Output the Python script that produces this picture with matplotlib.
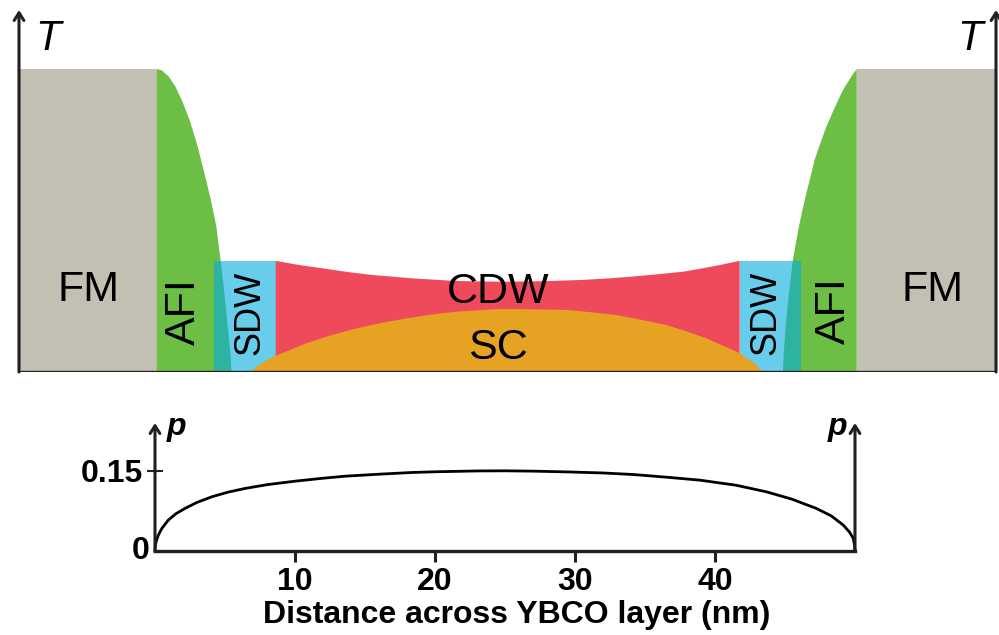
import matplotlib.pyplot as plt
from matplotlib.patches import Rectangle, Polygon

plt.rcParams['font.family'] = ['Liberation Sans', 'DejaVu Sans']

# phase diagram (top), T in units of the FM height
fm_T = 1.0
fm_left = [-9.7, 0.15]
fm_right = [50.15, 60.1]

afi_left_x = [0.15, 0.5, 1.0, 1.5, 2.0, 2.5, 3.0, 3.5, 4.0, 4.4, 4.7, 4.95, 5.15, 5.3, 5.42, 5.48]
afi_left_T = [1.0, 0.996, 0.975, 0.94, 0.89, 0.83, 0.755, 0.665, 0.57, 0.48, 0.37, 0.27, 0.18,
              0.11, 0.05, 0.0]
afi_right_x = [50.15, 49.9, 49.6, 49.35, 49.05, 48.55, 47.98, 47.55, 47.14, 46.85, 46.55, 46.25,
               46.02, 45.8, 45.59, 45.31, 45.07, 44.95, 44.88]
afi_right_T = [1.0, 0.985, 0.963, 0.945, 0.92, 0.87, 0.81, 0.755, 0.70, 0.645, 0.59, 0.53,
               0.48, 0.425, 0.37, 0.26, 0.15, 0.07, 0.0]

sdw_left = [4.21, 8.64]
sdw_right = [41.79, 46.19]
sdw_T = 0.367

cdw_x = [8.64, 10.2, 12.02, 13.8, 15.59, 18.45, 21.31, 23.0, 25.12, 28.0, 30.59, 32.4, 34.16,
         36.0, 37.74, 39.1, 40.36, 41.79]
cdw_T = [0.367, 0.354, 0.342, 0.330, 0.320, 0.309, 0.301, 0.299, 0.298, 0.300, 0.304, 0.309,
         0.315, 0.323, 0.331, 0.342, 0.353, 0.367]

sc_x = [6.91, 7.2, 7.7, 8.45, 10.84, 12.5, 14.41, 16.2, 17.98, 19.8, 21.55, 24.16, 24.64, 27.0,
        29.41, 31.2, 32.98, 34.8, 36.55, 38.0, 39.41, 40.6, 41.79, 42.7, 43.2, 43.45]
sc_T = [0.0, 0.015, 0.03, 0.050, 0.095, 0.120, 0.144, 0.162, 0.177, 0.190, 0.199, 0.207, 0.208,
        0.207, 0.205, 0.197, 0.188, 0.172, 0.155, 0.134, 0.111, 0.087, 0.062, 0.033, 0.013, 0.0]

# hole doping profile (bottom)
p_x = [0, 0.02, 0.08, 0.24, 0.5, 0.95, 1.5, 2.14, 3.0, 4.05, 5.2, 6.43, 8.0, 10.0, 12.0, 13.57,
       16.0, 18.34, 20.0, 23.09, 25.0, 27.0, 29.41, 32.0, 34.16, 36.5, 38.93, 41.5, 43.69,
       45.5, 47.24, 48.3, 49.16, 49.6, 49.88, 49.97, 50.0]
p_val = [0, 0.010, 0.018, 0.0303, 0.043, 0.0581, 0.070, 0.0798, 0.091, 0.1014, 0.110, 0.117,
         0.124, 0.1305, 0.136, 0.1398, 0.1435, 0.1467, 0.148, 0.1496, 0.1498, 0.1492, 0.1478,
         0.1458, 0.1429, 0.138, 0.1324, 0.123, 0.1106, 0.097, 0.0798, 0.066, 0.0488, 0.036,
         0.0241, 0.010, 0]
x_ticks = [10, 20, 30, 40]

c_fm = '#c2bfb3'
c_afi = '#6dbe45'
c_sdw = '#68cdea'
c_teal = '#2db3a0'
c_cdw = '#ef4a5b'
c_sc = '#e6a222'
c_ax = '#231f20'

W, H = 999, 635
fig = plt.figure(figsize=(W / 100, H / 100), dpi=100)

# ---- top panel
ax = fig.add_axes([19 / W, (H - 372) / H, (996 - 19) / W, (372 - 10) / H])
ax.set_xlim(-9.7, 60.1)
ax.set_ylim(0, 1.195)
ax.axis('off')

ax.add_patch(Rectangle((fm_left[0], 0), fm_left[1] - fm_left[0], fm_T, color=c_fm, lw=0, zorder=1))
ax.add_patch(Rectangle((fm_right[0], 0), fm_right[1] - fm_right[0], fm_T, color=c_fm, lw=0, zorder=1))

afi_l = list(zip(afi_left_x, afi_left_T)) + [(afi_left_x[0], 0)]
afi_r = list(zip(afi_right_x, afi_right_T)) + [(afi_right_x[0], 0)]
ax.add_patch(Polygon(afi_l, closed=True, color=c_afi, lw=0, zorder=2))
ax.add_patch(Polygon(afi_r, closed=True, color=c_afi, lw=0, zorder=2))

# SDW boxes, with the AFI overlap shown in teal
for lo, hi, pts in [(sdw_left[0], sdw_left[1], afi_l), (sdw_right[0], sdw_right[1], afi_r)]:
    r = Rectangle((lo, 0), hi - lo, sdw_T, color=c_sdw, lw=0, zorder=3)
    ax.add_patch(r)
    ov = Polygon(pts, closed=True, color=c_teal, lw=0, zorder=4)
    ax.add_patch(ov)
    ov.set_clip_path(r)

cdw_pts = list(zip(cdw_x, cdw_T)) + [(cdw_x[-1], 0), (cdw_x[0], 0)]
ax.add_patch(Polygon(cdw_pts, closed=True, color=c_cdw, lw=0, zorder=5))
ax.fill(sc_x, sc_T, color=c_sc, lw=0, zorder=6)

ax.plot([-9.7, 60.1], [0, 0], color=c_ax, lw=2.4, zorder=8, solid_capstyle='butt')
arr = dict(arrowstyle='->,head_length=0.55,head_width=0.35', lw=2.2, color=c_ax,
           shrinkA=0, shrinkB=0)
ax.annotate('', xy=(0, 1), xytext=(0, 0), xycoords='axes fraction', arrowprops=arr, zorder=9)
ax.annotate('', xy=(1, 1), xytext=(1, 0), xycoords='axes fraction', arrowprops=arr, zorder=9)

ax.text(-8.57, 1.063, 'T', fontsize=30, style='italic', ha='left', va='baseline')
ax.text(59.14, 1.063, 'T', fontsize=30, style='italic', ha='right', va='baseline')

lab = dict(fontsize=31, ha='center', va='center', zorder=10)
ax.text(-4.75, 0.272, 'FM', **lab)
ax.text(55.57, 0.272, 'FM', **lab)
ax.text(2.07, 0.201, 'AFI', rotation=90, **lab)
ax.text(48.54, 0.203, 'AFI', rotation=90, **lab)
ax.text(6.8, 0.195, 'SDW', rotation=90, fontsize=26, ha='center', va='center', zorder=10)
ax.text(43.64, 0.195, 'SDW', rotation=90, fontsize=26, ha='center', va='center', zorder=10)
ax.text(24.5, 0.263, 'CDW', **lab)
ax.text(24.5, 0.078, 'SC', **lab)

# ---- bottom panel
bx = fig.add_axes([155 / W, (H - 551.3) / H, (855 - 155) / W, (551.3 - 423) / H])
bx.set_xlim(0, 50)
bx.set_ylim(0, 0.2388)
bx.plot(p_x, p_val, color='black', lw=2.0, clip_on=False)

for s in ['top', 'left', 'right']:
    bx.spines[s].set_visible(False)
bx.spines['bottom'].set_linewidth(2.4)
bx.spines['bottom'].set_color(c_ax)
bx.annotate('', xy=(0, 1), xytext=(0, 0), xycoords='axes fraction', arrowprops=arr)
bx.annotate('', xy=(1, 1), xytext=(1, 0), xycoords='axes fraction', arrowprops=arr)

bx.set_xticks(x_ticks)
bx.set_xticklabels([str(t) for t in x_ticks], fontsize=23, fontweight='bold')
bx.tick_params(axis='x', direction='out', length=8, width=2.2, color=c_ax, pad=3)
bx.set_yticks([0.15])
bx.set_yticklabels(['0.15'], fontsize=23, fontweight='bold')
bx.tick_params(axis='y', direction='inout', length=11, width=1.5, color=c_ax, pad=3)
bx.text(-0.36, 0.0, '0', fontsize=23, fontweight='bold', ha='right', va='center')
bx.set_xlabel('Distance across YBCO layer (nm)', fontsize=23, fontweight='bold')
bx.xaxis.set_label_coords(0.517, -0.38)

bx.text(0.86, 0.216, 'p', fontsize=23, fontweight='bold', style='italic', ha='left', va='baseline')
bx.text(49.43, 0.216, 'p', fontsize=23, fontweight='bold', style='italic', ha='right', va='baseline')

fig.savefig('out.png', dpi=100)
